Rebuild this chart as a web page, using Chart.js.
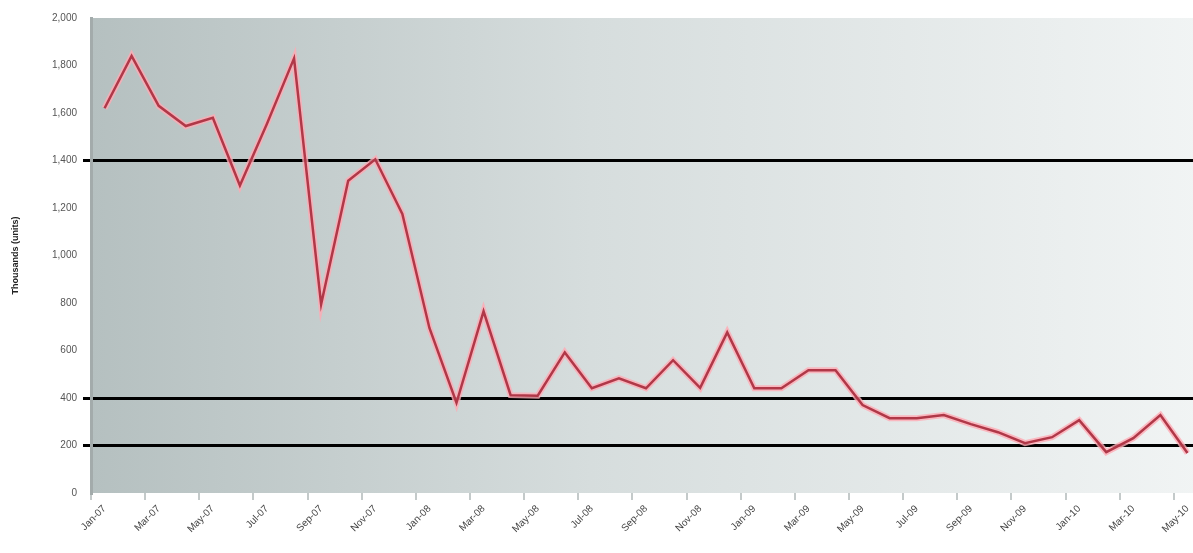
<!DOCTYPE html>
<html>
<head>
<meta charset="utf-8">
<script src="https://cdn.jsdelivr.net/npm/chart.js@4"></script>
<style>
  html, body { margin: 0; padding: 0; background: #fff; overflow: hidden; }
  #wrap { width: 1201px; height: 553px; }
</style>
</head>
<body>
<div id="wrap"><canvas id="chart"></canvas></div>
<script>
const months = [
  'Jan-07','Feb-07','Mar-07','Apr-07','May-07','Jun-07','Jul-07','Aug-07','Sep-07','Oct-07','Nov-07','Dec-07',
  'Jan-08','Feb-08','Mar-08','Apr-08','May-08','Jun-08','Jul-08','Aug-08','Sep-08','Oct-08','Nov-08','Dec-08',
  'Jan-09','Feb-09','Mar-09','Apr-09','May-09','Jun-09','Jul-09','Aug-09','Sep-09','Oct-09','Nov-09','Dec-09',
  'Jan-10','Feb-10','Mar-10','Apr-10','May-10'
];

const values = [
  1620, 1840, 1630, 1545, 1580, 1295, 1555, 1830, 795, 1315,
  1405, 1175, 695, 380, 765, 412, 410, 592, 441, 483,
  441, 559, 443, 676, 441, 441, 517, 517, 370, 315,
  315, 328, 290, 256, 210, 235, 307, 172, 231, 328,
  168
];

// horizontal reference lines drawn in black
const refLines = [200, 400, 1400];

const yTitle = 'Thousands (units)';

// gradient fill behind the plot
const plotBackground = {
  id: 'plotBackground',
  beforeDraw(chart) {
    const {ctx, chartArea: a} = chart;
    const g = ctx.createLinearGradient(a.left, 0, a.right, 0);
    g.addColorStop(0, '#b5c0c0');
    g.addColorStop(0.45, '#d6dddd');
    g.addColorStop(1, '#f1f4f4');
    ctx.save();
    ctx.fillStyle = g;
    ctx.fillRect(a.left, a.top, a.right - a.left, a.bottom - a.top);
    ctx.restore();
  }
};

new Chart(document.getElementById('chart'), {
  type: 'line',
  data: {
    labels: months,
    datasets: [{
      data: values,
      borderColor: '#b03848',
      borderWidth: 2.5,
      pointRadius: 0,
      tension: 0,
      order: 1
    }, {
      data: values,
      borderColor: 'rgba(255,170,180,0.8)',
      borderWidth: 6,
      pointRadius: 0,
      tension: 0,
      order: 2
    }]
  },
  options: {
    responsive: true,
    maintainAspectRatio: false,
    animation: false,
    layout: { padding: { top: 18, left: 0, right: 0, bottom: 0 } },
    plugins: {
      legend: { display: false },
      tooltip: { enabled: false }
    },
    scales: {
      x: {
        offset: true,
        border: { display: false },
        grid: {
          offset: true,
          drawOnChartArea: false,
          tickLength: 7,
          color: ctx => ctx.index % 2 === 0 ? '#c4caca' : 'rgba(0,0,0,0)',
          lineWidth: 2
        },
        ticks: {
          autoSkip: false,
          maxRotation: 45,
          minRotation: 45,
          color: '#444',
          font: { family: 'Liberation Sans', size: 10 },
          callback: (v, i) => i % 2 === 0 ? months[i] : ''
        },
        afterFit: scale => { scale.height = 60; }
      },
      y: {
        min: 0,
        max: 2000,
        border: { display: true, color: '#a3abab', width: 3 },
        grid: {
          tickLength: 8,
          color: ctx => refLines.includes(ctx.tick.value) ? '#000' : 'rgba(0,0,0,0)',
          lineWidth: 3
        },
        ticks: {
          stepSize: 200,
          padding: 6,
          color: '#555',
          font: { family: 'Liberation Sans', size: 10 },
          callback: v => v.toLocaleString('en-US')
        },
        title: {
          display: true,
          text: yTitle,
          color: '#222',
          font: { family: 'Liberation Sans', size: 9, weight: 'bold' },
          padding: { top: 10, bottom: 2 }
        },
        afterFit: scale => { scale.width = 91; }
      }
    }
  },
  plugins: [plotBackground]
});
</script>
</body>
</html>
